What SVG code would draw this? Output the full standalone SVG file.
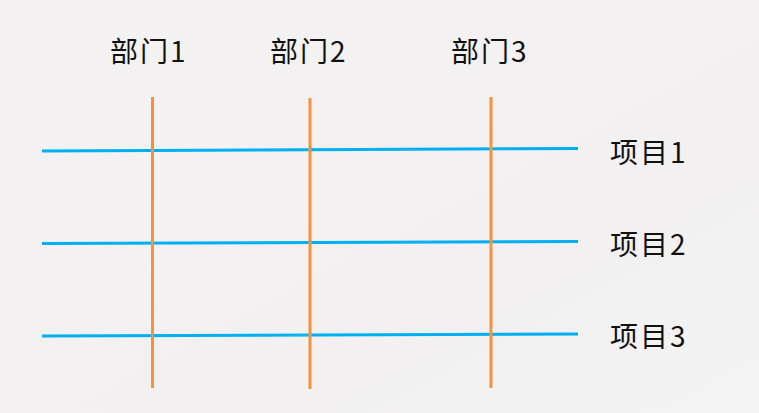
<svg xmlns="http://www.w3.org/2000/svg" width="759" height="413" viewBox="0 0 759 413">
<defs>
<linearGradient id="bg" x1="0" y1="0" x2="1" y2="1">
<stop offset="0" stop-color="#F4F2F3"/>
<stop offset="0.7" stop-color="#F2F0F1"/>
<stop offset="1" stop-color="#F5F4F4"/>
</linearGradient>
</defs>
<style>
.lbl{font-family:"Microsoft YaHei","Noto Sans CJK SC","Liberation Sans",sans-serif;font-size:28px;letter-spacing:2px;fill:#111}
.h{stroke:#00B0F0;stroke-width:3;fill:none}
.v{stroke:#F7923A;stroke-width:3;fill:none}
</style>
<rect width="759" height="413" fill="url(#bg)"/>
<g id="connectors">
<line class="h" x1="42" y1="151" x2="578" y2="148.5"/>
<line class="h" x1="42" y1="243.5" x2="578" y2="241.5"/>
<line class="h" x1="42" y1="336" x2="578" y2="334"/>
<line class="v" x1="152.5" y1="97" x2="152.5" y2="388"/>
<line class="v" x1="310" y1="98" x2="310" y2="389"/>
<line class="v" x1="491" y1="97" x2="491" y2="388"/>
</g>
<g id="dept1"><text class="lbl" x="110" y="62">部门1</text></g>
<g id="dept2"><text class="lbl" x="270" y="62">部门2</text></g>
<g id="dept3"><text class="lbl" x="451" y="62">部门3</text></g>
<g id="item1"><text class="lbl" x="610" y="163">项目1</text></g>
<g id="item2"><text class="lbl" x="610" y="255">项目2</text></g>
<g id="item3"><text class="lbl" x="610" y="347">项目3</text></g>
</svg>
